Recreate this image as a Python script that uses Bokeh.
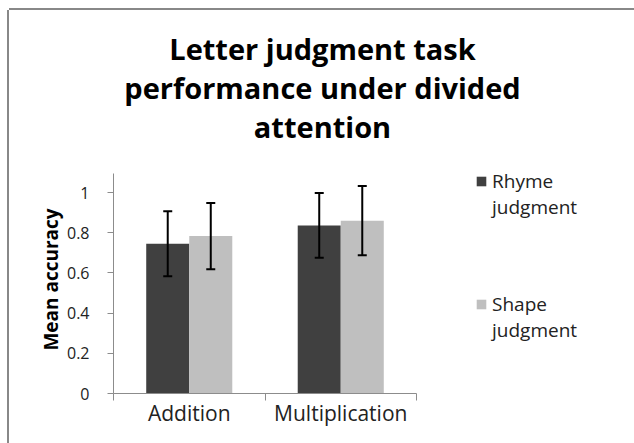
import numpy as np
from bokeh.plotting import figure
from bokeh.layouts import column
from bokeh.models import (ColumnDataSource, Whisker, TeeHead, Label, Legend, LegendItem,
                          FixedTicker, Range1d)
from bokeh.embed import file_html
from bokeh.resources import INLINE

# ---- data ----
categories = ["Addition", "Multiplication"]
rhyme = [0.745, 0.836]
shape = [0.783, 0.860]
rhyme_err = [0.162, 0.161]
shape_err = [0.165, 0.172]
series_first = ["Rhyme", "Shape"]
series_second = ["judgment", "judgment"]
y_ticks = [0, 0.2, 0.4, 0.6, 0.8, 1.0]
y_tick_labels = ["0", "0.2", "0.4", "0.6", "0.8", "1"]
title_lines = ["Letter judgment task", "performance under divided", "attention"]

FONT = "Open Sans"
DARK = "#404040"
LIGHT = "#bfbfbf"
AXIS = "#8c8c8c"
TXT = "#222222"

# ---- layout (pixels) ----
OFF_X, OFF_Y = 9, 10         # offset on the page (room for the outer border)
W = 634 - OFF_X
H_TOP = 155                  # title strip
H = 443 - OFF_Y - H_TOP      # chart strip
ML, MB = 104, 50             # frame offsets inside the chart canvas
PX_X, PX_Y = 151.5, 201.0    # pixels per data unit
FW, FH = W - ML, H - MB
AXIS_TOP = 1.095

centers = np.arange(len(categories)) + 0.5
bw = 0.284

def src(vals, errs, off):
    v = np.array(vals); e = np.array(errs)
    return ColumnDataSource(dict(x=centers + off, top=v, lo=v - e, hi=v + e))

s_r = src(rhyme, rhyme_err, -bw / 2)
s_s = src(shape, shape_err, bw / 2)

# ---- title strip (its frame is aligned with the chart frame) ----
t = figure(width=W, height=H_TOP, output_backend="svg", toolbar_location=None,
           x_axis_type=None, y_axis_type=None, min_border=0,
           x_range=Range1d(0, FW), y_range=Range1d(0, H_TOP))
t.outline_line_color = None
t.grid.visible = False
for i, txt in enumerate(title_lines):
    t.add_layout(Label(x=209, y=117 - 39 * i, x_units="screen", y_units="screen", text=txt,
                       text_font=FONT, text_font_style="bold", text_font_size="29px",
                       text_align="center", text_baseline="alphabetic", text_color="black"))

# ---- chart ----
p = figure(width=W, height=H, output_backend="svg", toolbar_location=None,
           x_range=Range1d(0, FW / PX_X), y_range=Range1d(0, FH / PX_Y),
           min_border_left=ML, min_border_right=0, min_border_top=0,
           min_border_bottom=MB)
p.outline_line_color = None
p.grid.visible = False

r1 = p.vbar(x="x", top="top", width=bw, source=s_r, fill_color=DARK, line_color=None)
r2 = p.vbar(x="x", top="top", width=bw, source=s_s, fill_color=LIGHT, line_color=None)
# empty, invisible renderer used for the wrapped second legend line
blank = p.vbar(x=[], top=[], width=bw, fill_alpha=0, line_alpha=0)

for s in (s_r, s_s):
    w = Whisker(base="x", lower="lo", upper="hi", source=s, line_color="black", line_width=2,
                upper_head=TeeHead(size=9, line_color="black", line_width=2),
                lower_head=TeeHead(size=9, line_color="black", line_width=2),
                level="annotation")
    p.add_layout(w)

xa = p.xaxis[0]
xa.bounds = (0, len(categories))
xa.ticker = FixedTicker(ticks=list(centers), minor_ticks=list(np.arange(len(categories) + 1)))
xa.major_label_overrides = {float(c): n for c, n in zip(centers, categories)}
xa.major_tick_line_color = None
xa.major_tick_out = 3
xa.minor_tick_line_color = AXIS
xa.minor_tick_out = 7
xa.minor_tick_in = 0
xa.axis_line_color = AXIS
xa.major_label_text_font = FONT
xa.major_label_text_font_size = "21px"
xa.major_label_text_color = TXT
xa.major_label_standoff = -2

ya = p.yaxis[0]
ya.bounds = (0, AXIS_TOP)
ya.ticker = FixedTicker(ticks=y_ticks, minor_ticks=[])
ya.major_label_overrides = {float(v): l for v, l in zip(y_ticks, y_tick_labels)}
ya.axis_line_color = AXIS
ya.major_tick_line_color = AXIS
ya.major_tick_out = 6
ya.major_tick_in = 0
ya.major_label_text_font = FONT
ya.major_label_text_font_size = "16px"
ya.major_label_text_color = TXT
ya.major_label_standoff = 18
ya.axis_label = "Mean accuracy"
ya.axis_label_text_font = FONT
ya.axis_label_text_font_style = "bold"
ya.axis_label_text_font_size = "19px"
ya.axis_label_text_color = "black"
ya.axis_label_standoff = 0

for ren, first, second, vy in ((r1, series_first[0], series_second[0], 173.2),
                               (r2, series_first[1], series_second[1], 50.4)):
    lg = Legend(items=[LegendItem(label=first, renderers=[ren]),
                       LegendItem(label=second, renderers=[blank])],
                location=(362, vy), glyph_width=12, glyph_height=12, padding=0, margin=0,
                border_line_color=None, background_fill_alpha=0, spacing=-3,
                label_text_font=FONT, label_text_font_size="19px", label_text_color=TXT,
                label_standoff=5, label_height=12)
    p.add_layout(lg)

layout = column(t, p, spacing=0)
layout.styles = {"margin-left": f"{OFF_X}px", "margin-top": f"{OFF_Y}px",
                 "box-shadow": "-2px 0 0 0 #888888, 0 -2px 0 0 #888888"}

open("out.html", "w").write(file_html(layout, INLINE))
